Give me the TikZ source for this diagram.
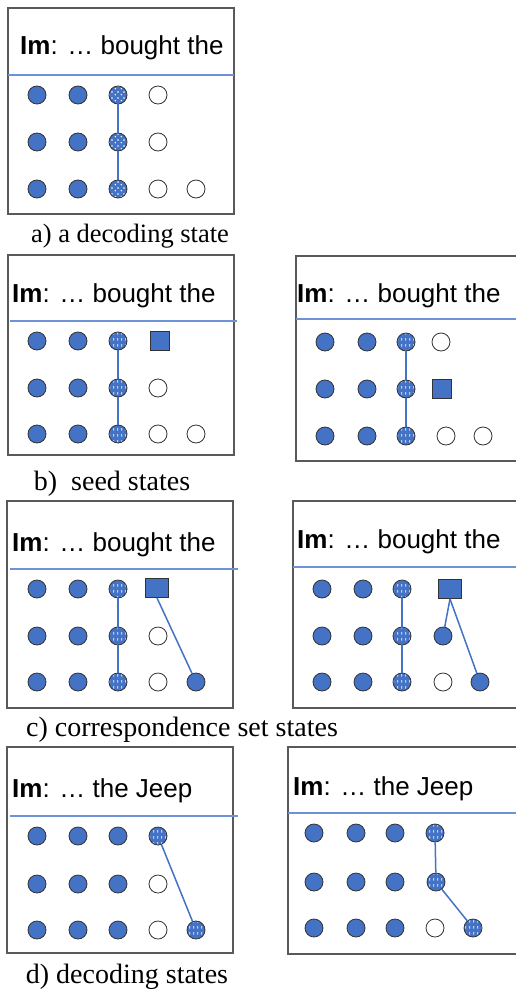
\documentclass[tikz,border=0pt]{standalone}
\usepackage{fontspec}
\setmainfont{Liberation Serif}
\newfontfamily\arialfont{Liberation Sans}
\usetikzlibrary{patterns.meta}

\definecolor{stateblue}{HTML}{4472C4}
\definecolor{sepblue}{HTML}{6E92D6}
\definecolor{boxgray}{HTML}{595959}

% white marks on the hypothesis states
\tikzdeclarepattern{name=vdashes, type=uncolored,
  bottom left={(0pt,0pt)}, top right={(4pt,6pt)}, tile size={(4pt,6pt)},
  code={\draw[line width=0.8pt] (2pt,1.5pt) -- (2pt,4.3pt);}}
\tikzdeclarepattern{name=whitedots, type=uncolored,
  bottom left={(0pt,0pt)}, top right={(6pt,6pt)}, tile size={(6pt,6pt)},
  code={\fill (1.5pt,1.5pt) circle (0.9pt); \fill (4.5pt,4.5pt) circle (0.9pt);}}

\tikzset{
  statebase/.style={circle, draw=black!80, line width=0.8pt, minimum size=18pt, inner sep=0pt},
  statefull/.style={statebase, fill=stateblue},
  stateempty/.style={statebase, fill=white},
  statehyp/.style={statebase, preaction={fill=stateblue}, pattern=vdashes, pattern color=white},
  statedot/.style={statebase, preaction={fill=stateblue}, pattern=whitedots, pattern color=white},
  seedbox/.style={rectangle, draw=black!80, line width=0.8pt, fill=stateblue, inner sep=0pt,
    minimum width=19pt, minimum height=19pt},
  panelbox/.style={draw=boxgray, line width=1.1pt},
  sepline/.style={draw=sepblue, line width=1.2pt},
  link/.style={draw=stateblue, line width=1.5pt},
  lmtext/.style={anchor=base west, inner sep=0pt, font=\arialfont\fontsize{26}{30}\selectfont},
  caption/.style={anchor=base, inner sep=0pt, font=\fontsize{28}{32}\selectfont}
}

\begin{document}
\begin{tikzpicture}[x=1pt, y=-1pt]
    \useasboundingbox (0,0) rectangle (515,990);

    % a) a decoding state
    \draw[panelbox] (8,8) rectangle (234,214);
    \draw[sepline] (8,75) -- (234,75);
    \node[lmtext] (a-lm) at (20,55) {\textbf{Im}: … bought the};
    \foreach \r/\y in {1/95,2/142,3/189} {
        \foreach \c/\x in {1/37,2/78}
            \node[statefull] (a-\r-\c) at (\x,\y) {};
        \node[statedot] (a-\r-3) at (118,\y) {};
    }
    \node[stateempty] (a-1-4) at (158,95) {};
    \node[stateempty] (a-2-4) at (158,142) {};
    \node[stateempty] (a-3-4) at (158,189) {};
    \node[stateempty] (a-3-5) at (196,189) {};
    \draw[link] (a-1-3) -- (a-2-3);
    \draw[link] (a-2-3) -- (a-3-3);
    \node[caption, font=\fontsize{26.5}{30}\selectfont] (a-cap) at (130,242) {a) a decoding state};

    % b) seed states, left
    \draw[panelbox] (8,255) rectangle (234,455);
    \draw[sepline] (10,321) -- (237,321);
    \node[lmtext] (b-lm) at (12,302) {\textbf{Im}: … bought the};
    \foreach \r/\y in {1/341,2/388,3/434} {
        \foreach \c/\x in {1/37,2/78}
            \node[statefull] (b-\r-\c) at (\x,\y) {};
        \node[statehyp] (b-\r-3) at (118,\y) {};
    }
    \node[seedbox] (b-1-4) at (160,341) {};
    \node[stateempty] (b-2-4) at (158,388) {};
    \node[stateempty] (b-3-4) at (158,434) {};
    \node[stateempty] (b-3-5) at (196,434) {};
    \draw[link] (b-1-3) -- (b-2-3);
    \draw[link] (b-2-3) -- (b-3-3);

    % b) seed states, right
    \draw[panelbox] (296,256) rectangle (540,461);
    \draw[sepline] (296,319) -- (540,319);
    \node[lmtext] (bb-lm) at (297,302) {\textbf{Im}: … bought the};
    \foreach \r/\y in {1/342,2/389,3/436} {
        \foreach \c/\x in {1/325,2/367}
            \node[statefull] (bb-\r-\c) at (\x,\y) {};
        \node[statehyp] (bb-\r-3) at (406,\y) {};
    }
    \node[stateempty] (bb-1-4) at (441,342) {};
    \node[seedbox] (bb-2-4) at (442,389) {};
    \node[stateempty] (bb-3-4) at (446,436) {};
    \node[stateempty] (bb-3-5) at (483,436) {};
    \draw[link] (bb-1-3) -- (bb-2-3);
    \draw[link] (bb-2-3) -- (bb-3-3);
    \node[caption] (b-cap) at (112,490) {b)\ \ seed states};

    % c) correspondence set states, left
    \draw[panelbox] (7,501) rectangle (233,708);
    \draw[sepline] (10,569) -- (238,569);
    \node[lmtext] (c-lm) at (12,551) {\textbf{Im}: … bought the};
    \foreach \r/\y in {1/589,2/636,3/682} {
        \foreach \c/\x in {1/37,2/78}
            \node[statefull] (c-\r-\c) at (\x,\y) {};
        \node[statehyp] (c-\r-3) at (118,\y) {};
    }
    \node[seedbox, minimum width=23pt] (c-1-4) at (157,588) {};
    \node[stateempty] (c-2-4) at (158,636) {};
    \node[stateempty] (c-3-4) at (158,682) {};
    \node[statefull] (c-3-5) at (196,682) {};
    \draw[link] (c-1-3) -- (c-2-3);
    \draw[link] (c-2-3) -- (c-3-3);
    \draw[link] (c-1-4.south) -- (c-3-5);

    % c) correspondence set states, right
    \draw[panelbox] (293,501) rectangle (540,708);
    \draw[sepline] (293,567) -- (540,567);
    \node[lmtext] (cc-lm) at (297,548) {\textbf{Im}: … bought the};
    \foreach \r/\y in {1/589,2/636,3/682} {
        \foreach \c/\x in {1/322,2/363}
            \node[statefull] (cc-\r-\c) at (\x,\y) {};
        \node[statehyp] (cc-\r-3) at (402,\y) {};
    }
    \node[seedbox, minimum width=23pt] (cc-1-4) at (450,589) {};
    \node[statefull] (cc-2-4) at (443,636) {};
    \node[stateempty] (cc-3-4) at (443,682) {};
    \node[statefull] (cc-3-5) at (480,682) {};
    \draw[link] (cc-1-3) -- (cc-2-3);
    \draw[link] (cc-2-3) -- (cc-3-3);
    \draw[link] (cc-1-4.south) -- (cc-2-4);
    \draw[link] (cc-1-4.south) -- (cc-3-5);
    \node[caption] (c-cap) at (182,736) {c) correspondence set states};

    % d) decoding states, left
    \draw[panelbox] (7,747) rectangle (233,953);
    \draw[sepline] (10,816) -- (238,816);
    \node[lmtext] (d-lm) at (12,797) {\textbf{Im}: … the Jeep};
    \foreach \r/\y in {1/836,2/884,3/930}
        \foreach \c/\x in {1/37,2/78,3/118}
            \node[statefull] (d-\r-\c) at (\x,\y) {};
    \node[statehyp] (d-1-4) at (158,836) {};
    \node[stateempty] (d-2-4) at (158,884) {};
    \node[stateempty] (d-3-4) at (158,930) {};
    \node[statehyp] (d-3-5) at (196,930) {};
    \draw[link] (d-1-4) -- (d-3-5);

    % d) decoding states, right
    \draw[panelbox] (288,747) rectangle (540,954);
    \draw[sepline] (288,813) -- (540,813);
    \node[lmtext] (dd-lm) at (293,795) {\textbf{Im}: … the Jeep};
    \foreach \r/\y in {1/833,2/882,3/928}
        \foreach \c/\x in {1/314,2/356,3/395}
            \node[statefull] (dd-\r-\c) at (\x,\y) {};
    \node[statehyp] (dd-1-4) at (435,833) {};
    \node[statehyp] (dd-2-4) at (436,882) {};
    \node[stateempty] (dd-3-4) at (435,928) {};
    \node[statehyp] (dd-3-5) at (473,928) {};
    \draw[link] (dd-1-4) -- (dd-2-4);
    \draw[link] (dd-2-4) -- (dd-3-5);
    \node[caption] (d-cap) at (127,983) {d) decoding states};
\end{tikzpicture}
\end{document}
